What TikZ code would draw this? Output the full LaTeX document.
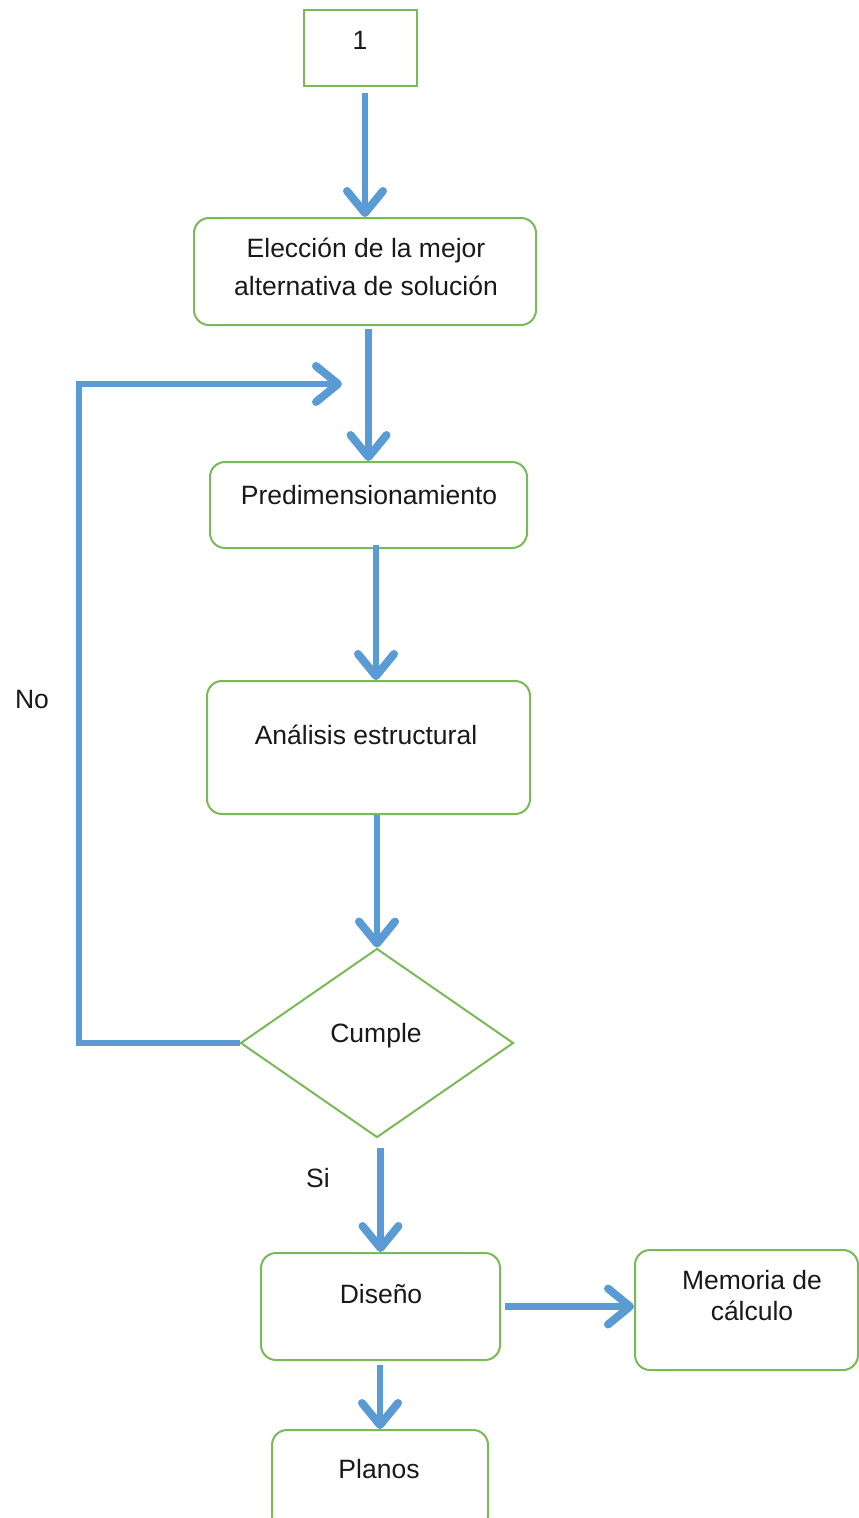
\documentclass[tikz,border=0pt]{standalone}
\usepackage{fontspec}
\setmainfont{Liberation Sans}
\usetikzlibrary{arrows.meta,shapes.geometric}
\definecolor{fblue}{RGB}{91,155,213}
\definecolor{fgreen}{RGB}{122,186,86}
\definecolor{ftext}{RGB}{25,25,25}
\begin{document}
\begin{tikzpicture}[x=1pt,y=-1pt,
  box/.style={draw=fgreen, line width=2pt, rounded corners=15pt, inner sep=0pt, fill=white},
  sqbox/.style={draw=fgreen, line width=2pt, inner sep=0pt, fill=white},
  dbox/.style={draw=fgreen, line width=2pt, diamond, aspect=1.444, inner sep=0pt, minimum width=273pt, minimum height=189pt},
  txt/.style={text=ftext, font=\fontsize{26.5}{38}\selectfont, align=center, inner sep=0pt},
  txtb/.style={text=ftext, font=\fontsize{26.5}{31}\selectfont, align=center, inner sep=0pt},
  arr/.style={draw=fblue, line width=6.5pt, -{Straight Barb[length=22pt, width=36pt, line width=8pt, round]}}
]
\useasboundingbox (0,0) rectangle (859,1518);
% nodes
\node[sqbox, minimum width=113pt, minimum height=76pt] (one) at (360.5,48) {};
\node[txt] (onet) at (360,40) {1};
\node[box, minimum width=342pt, minimum height=107pt] (elec) at (365,271.5) {};
\node[txt] (elect) at (366,267) {Elección de la mejor\\alternativa de solución};
\node[box, minimum width=317pt, minimum height=86pt] (pre) at (368.5,505) {};
\node[txt] (pret) at (369,495) {Predimensionamiento};
\node[box, minimum width=323pt, minimum height=133pt] (ana) at (368.5,747.5) {};
\node[txt] (anat) at (366,735) {Análisis estructural};
\node[dbox] (dia) at (377,1043) {};
\node[txt] (diat) at (376,1036) {Cumple};
\node[box, minimum width=239pt, minimum height=107pt] (dis) at (380.5,1306.5) {};
\node[txt] (dist) at (381,1294) {Diseño};
\node[box, minimum width=223pt, minimum height=120pt] (mem) at (746.5,1310) {};
\node[txtb] (memt) at (752,1296) {Memoria de\\cálculo};
\node[box, minimum width=216pt, minimum height=100pt] (pla) at (380,1480) {};
\node[txt] (plat) at (379,1469) {Planos};
\node[txt] (no) at (32,700) {No};
\node[txt] (si) at (318,1178) {Si};
% connectors
\draw[arr] ([yshift=-6pt]one.south -| elec.north) -- (elec.north);
\draw[arr] ([yshift=-3pt]elec.south -| pre.north) -- (pre.north);
\draw[arr] ([xshift=7.5pt,yshift=4pt]pre.south) -- ([xshift=7.5pt]ana.north);
\draw[arr] (ana.south -| dia.north) -- (dia.north);
\draw[arr] ([yshift=-9pt]dia.south -| dis.north) -- (dis.north);
\draw[arr] ([xshift=4pt]dis.east) -- (dis.east -| mem.west);
\draw[arr] ([yshift=-4pt]dis.south -| pla.north) -- (pla.north);
\coordinate (lc) at (79,384);
\coordinate (lp) at (342,384);
\draw[arr] (dia.west) -| (lc) -- (lp);
\end{tikzpicture}
\end{document}
